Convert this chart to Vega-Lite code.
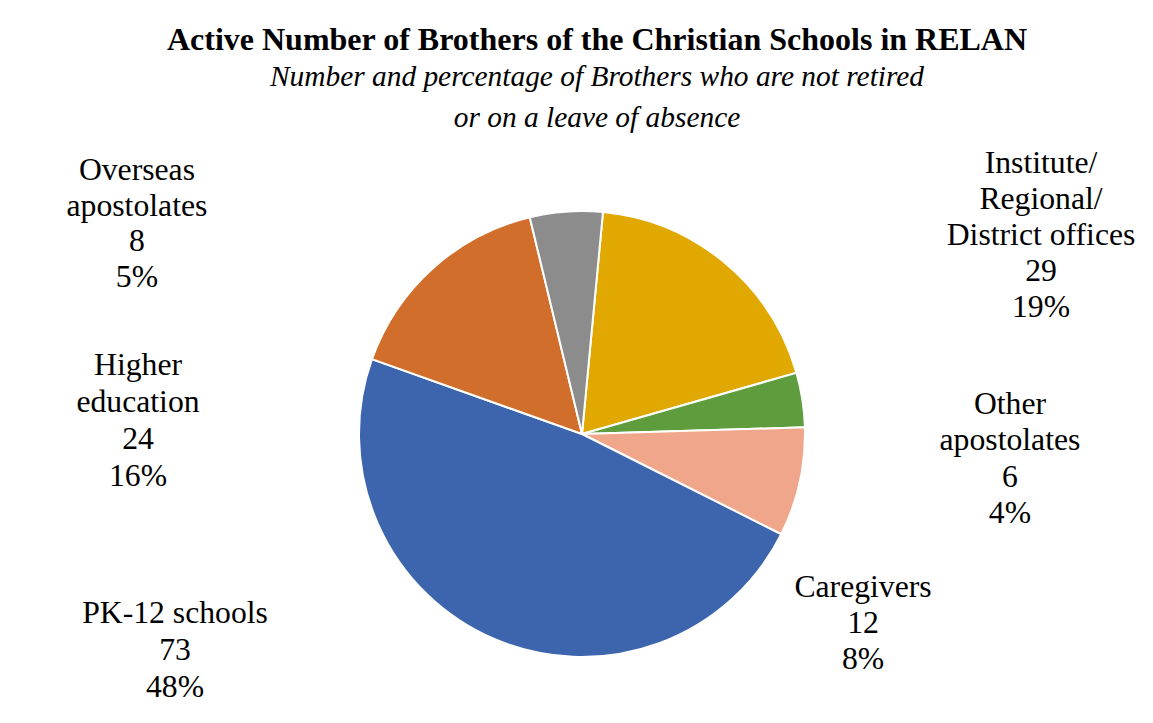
{
  "$schema": "https://vega.github.io/schema/vega-lite/v6.json",
  "width": 1142,
  "height": 578,
  "autosize": {"type": "none"},
  "padding": {"left": 11, "top": 145, "right": 0, "bottom": 0},
  "background": "white",
  "title": {
    "text": "Active Number of Brothers of the Christian Schools in RELAN",
    "subtitle": ["Number and percentage of Brothers who are not retired", "or on a leave of absence"],
    "anchor": "middle",
    "dx": 15,
    "offset": -41,
    "font": "Liberation Serif",
    "fontSize": 32,
    "fontWeight": "bold",
    "color": "black",
    "subtitleFont": "Liberation Serif",
    "subtitleFontSize": 29.4,
    "subtitleFontStyle": "italic",
    "subtitleColor": "black",
    "subtitleLineHeight": 41,
    "subtitlePadding": 6
  },
  "config": {"view": {"stroke": null}},
  "data": {
    "values": [
      {"seq": 1, "category": "Institute/Regional/District offices", "brothers": 29, "share": "19%", "label": ["Institute/", "Regional/", "District offices", "29", "19%"]},
      {"seq": 2, "category": "Other apostolates", "brothers": 6, "share": "4%", "label": ["Other", "apostolates", "6", "4%"]},
      {"seq": 3, "category": "Caregivers", "brothers": 12, "share": "8%", "label": ["Caregivers", "12", "8%"]},
      {"seq": 4, "category": "PK-12 schools", "brothers": 73, "share": "48%", "label": ["PK-12 schools", "73", "48%"]},
      {"seq": 5, "category": "Higher education", "brothers": 24, "share": "16%", "label": ["Higher", "education", "24", "16%"]},
      {"seq": 6, "category": "Overseas apostolates", "brothers": 8, "share": "5%", "label": ["Overseas", "apostolates", "8", "5%"]}
    ]
  },
  "encoding": {
    "theta": {"field": "brothers", "type": "quantitative", "stack": true, "scale": {"range": [0.0942, 6.3774]}},
    "order": {"field": "seq", "type": "quantitative"}
  },
  "layer": [
    {
      "mark": {"type": "arc", "outerRadius": 223, "stroke": "white", "strokeWidth": 2},
      "encoding": {
        "color": {
          "field": "category",
          "type": "nominal",
          "legend": null,
          "scale": {
            "domain": ["Institute/Regional/District offices", "Other apostolates", "Caregivers", "PK-12 schools", "Higher education", "Overseas apostolates"],
            "range": ["#E0A800", "#5E9C3E", "#F0A68A", "#3D65AE", "#D26E2B", "#8C8C8C"]
          }
        }
      }
    },
    {
      "mark": {"type": "text", "radius": 240, "dx": 305.6, "dy": -76.8, "font": "Liberation Serif", "fontSize": 31.7, "lineHeight": 36, "align": "center", "baseline": "alphabetic", "color": "black"},
      "encoding": {"text": {"field": "label"}, "opacity": {"condition": {"test": "datum.category === 'Institute/Regional/District offices'", "value": 1}, "value": 0}}
    },
    {
      "mark": {"type": "text", "radius": 240, "dx": 190.8, "dy": 16.7, "font": "Liberation Serif", "fontSize": 31.7, "lineHeight": 36.5, "align": "center", "baseline": "alphabetic", "color": "black"},
      "encoding": {"text": {"field": "label"}, "opacity": {"condition": {"test": "datum.category === 'Other apostolates'", "value": 1}, "value": 0}}
    },
    {
      "mark": {"type": "text", "radius": 240, "dx": 46.7, "dy": 110.8, "font": "Liberation Serif", "fontSize": 31.7, "lineHeight": 36.2, "align": "center", "baseline": "alphabetic", "color": "black"},
      "encoding": {"text": {"field": "label"}, "opacity": {"condition": {"test": "datum.category === 'Caregivers'", "value": 1}, "value": 0}}
    },
    {
      "mark": {"type": "text", "radius": 240, "dx": -312.6, "dy": -32, "font": "Liberation Serif", "fontSize": 31.7, "lineHeight": 37, "align": "center", "baseline": "alphabetic", "color": "black"},
      "encoding": {"text": {"field": "label"}, "opacity": {"condition": {"test": "datum.category === 'PK-12 schools'", "value": 1}, "value": 0}}
    },
    {
      "mark": {"type": "text", "radius": 240, "dx": -283.5, "dy": 119.4, "font": "Liberation Serif", "fontSize": 31.7, "lineHeight": 37, "align": "center", "baseline": "alphabetic", "color": "black"},
      "encoding": {"text": {"field": "label"}, "opacity": {"condition": {"test": "datum.category === 'Higher education'", "value": 1}, "value": 0}}
    },
    {
      "mark": {"type": "text", "radius": 240, "dx": -428, "dy": -14.6, "font": "Liberation Serif", "fontSize": 31.7, "lineHeight": 35.5, "align": "center", "baseline": "alphabetic", "color": "black"},
      "encoding": {"text": {"field": "label"}, "opacity": {"condition": {"test": "datum.category === 'Overseas apostolates'", "value": 1}, "value": 0}}
    }
  ]
}
